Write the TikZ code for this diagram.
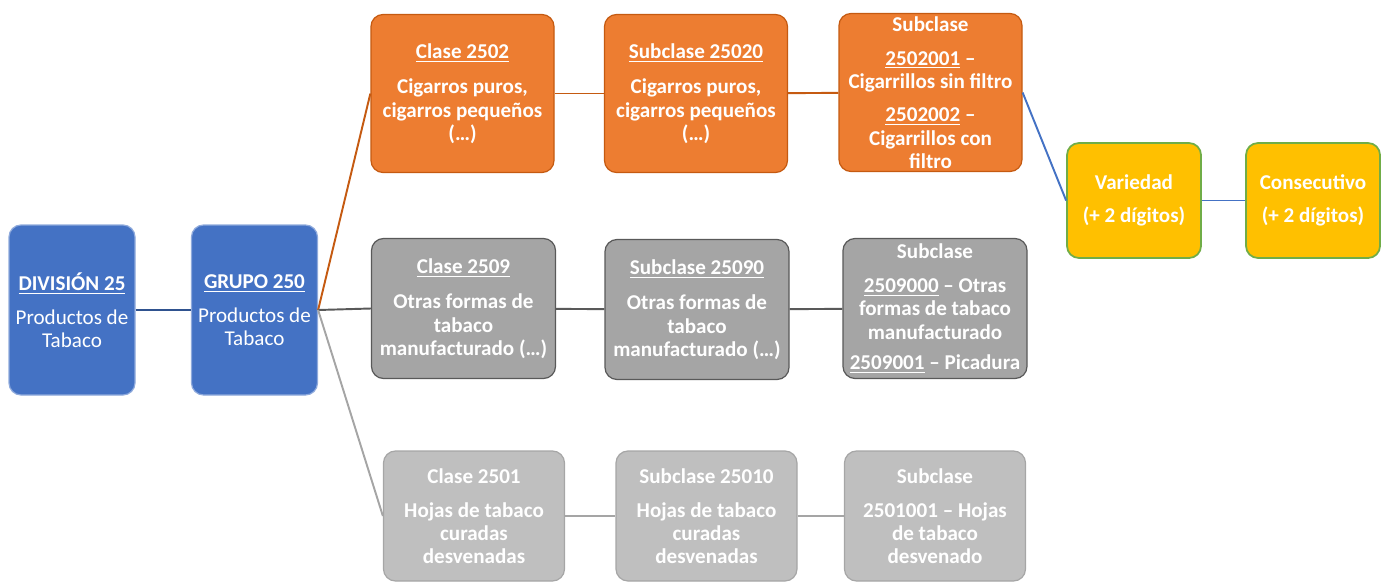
\documentclass[tikz,border=0pt]{standalone}
\usepackage{fontspec}
\setmainfont{Carlito}
\definecolor{azul}{HTML}{4472C4}
\definecolor{azulborde}{HTML}{8FAADC}
\definecolor{azullinea}{HTML}{2F528F}
\definecolor{naranja}{HTML}{ED7D31}
\definecolor{naranjaborde}{HTML}{C55A11}
\definecolor{gris}{HTML}{A5A5A5}
\definecolor{grisborde}{HTML}{595959}
\definecolor{grisclaro}{HTML}{BFBFBF}
\definecolor{grisclaroborde}{HTML}{A6A6A6}
\definecolor{amarillo}{HTML}{FFC000}
\definecolor{verde}{HTML}{70AD47}
\begin{document}
\begin{tikzpicture}[
    caja/.style={rectangle, rounded corners=0.24cm, text=white, align=center, inner sep=1pt, line width=0.7pt, font=\fontsize{12}{13.2}\selectfont\bfseries},
    nivel/.style={caja, fill=azul, draw=azulborde, minimum width=2.52cm, minimum height=3.4cm, font=\fontsize{12}{13.2}\selectfont},
    fila1/.style={caja, fill=naranja, draw=naranjaborde, minimum width=3.66cm, minimum height=3.16cm},
    fila2/.style={caja, fill=gris, draw=grisborde, minimum width=3.68cm, minimum height=2.8cm},
    fila3/.style={caja, fill=grisclaro, draw=grisclaroborde, minimum width=3.62cm, minimum height=2.6cm},
    extra/.style={caja, fill=amarillo, draw=verde, line width=1pt, minimum width=2.68cm, minimum height=2.3cm},
    enlace/.style={line width=1.1pt},
]
\useasboundingbox (0,0) rectangle (27.68,-11.66);

% Division y grupo
\node[nivel] (div) at (1.44, -6.2) {\textbf{\underline{DIVISIÓN 25}}\\[6pt]Productos de\\Tabaco};
\node[nivel] (grp) at (5.09, -6.2) {\textbf{\underline{GRUPO 250}}\\[6pt]Productos de\\Tabaco};

% Fila 1: clase 2502
\node[fila1] (c2502) at (9.25, -1.87) {\underline{Clase 2502}\\[7pt]Cigarros puros,\\cigarros pequeños\\(…)};
\node[fila1] (s25020) at (13.92, -1.87) {\underline{Subclase 25020}\\[7pt]Cigarros puros,\\cigarros pequeños\\(…)};
\node[fila1] (s2502001) at (18.61, -1.85) {Subclase\\[6pt]\underline{2502001} –\\Cigarrillos sin filtro\\[6pt]\underline{2502002} –\\Cigarrillos con\\filtro};

% Fila 2: clase 2509
\node[fila2] (c2509) at (9.27, -6.17) {\underline{Clase 2509}\\[7pt]Otras formas de\\tabaco\\manufacturado (…)};
\node[fila2] (s25090) at (13.94, -6.19) {\underline{Subclase 25090}\\[7pt]Otras formas de\\tabaco\\manufacturado (…)};
\node[fila2] (s2509000) at (18.70, -6.17) {Subclase\\[6pt]\underline{2509000} – Otras\\formas de tabaco\\manufacturado\\[4pt]\underline{2509001} – Picadura};

% Fila 3: clase 2501
\node[fila3] (c2501) at (9.48, -10.32) {Clase 2501\\[6pt]Hojas de tabaco\\curadas\\desvenadas};
\node[fila3] (s25010) at (14.13, -10.32) {Subclase 25010\\[6pt]Hojas de tabaco\\curadas\\desvenadas};
\node[fila3] (s2501001) at (18.70, -10.32) {Subclase\\[6pt]2501001 – Hojas\\de tabaco\\desvenado};

% Variedad y consecutivo
\node[extra] (var) at (22.68, -4.01) {Variedad\\[6pt](+ 2 dígitos)};
\node[extra] (cons) at (26.26, -4.01) {Consecutivo\\[6pt](+ 2 dígitos)};

% Enlaces desde la division
\draw[enlace, azullinea] (div) -- (grp);
\draw[enlace, naranjaborde] (grp.east) -- (c2502.west);
\draw[enlace, grisborde] (grp.east) -- (c2509.west);
\draw[enlace, gris] (grp.east) -- (c2501.west);

% Enlaces de cada fila
\draw[enlace, naranjaborde] (c2502) -- (s25020);
\draw[enlace, naranjaborde] (s25020) -- (s2502001);
\draw[enlace, grisborde] (c2509) -- (s25090);
\draw[enlace, grisborde] (s25090) -- (s2509000);
\draw[enlace, gris] (c2501) -- (s25010);
\draw[enlace, gris] (s25010) -- (s2501001);

% Enlaces finales
\draw[enlace, azul] (s2502001.east) -- (var.west);
\draw[enlace, azul] (var) -- (cons);

\end{tikzpicture}
\end{document}
